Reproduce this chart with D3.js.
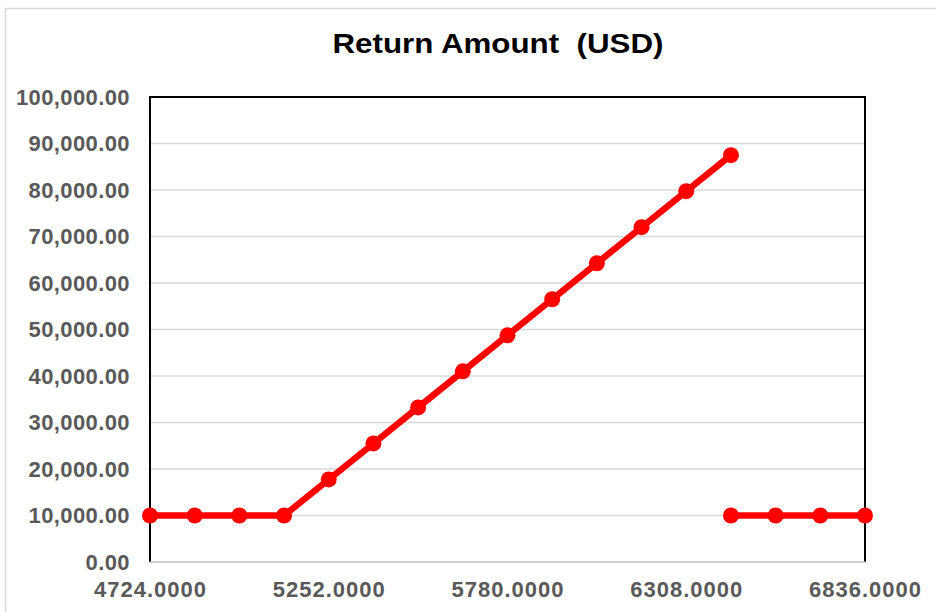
<!DOCTYPE html>
<html>
<head>
<meta charset="utf-8">
<script src="https://cdn.jsdelivr.net/npm/d3@7"></script>
<style>
  body { margin: 0; background: #fff; }
  text { font-family: "Liberation Sans", Arial, sans-serif; }
</style>
</head>
<body>
<svg id="chart" width="936" height="612"></svg>
<script>
var chartTitle = "Return Amount  (USD)";
// strike prices, two separate segments
var xFirst = [4724, 4856, 4988, 5120, 5252, 5384, 5516, 5648, 5780, 5912, 6044, 6176, 6308, 6440];
var yFirst = [10000, 10000, 10000, 10000, 17750, 25500, 33250, 41000, 48750, 56500, 64250, 72000, 79750, 87500];
var xSecond = [6440, 6572, 6704, 6836];
var ySecond = [10000, 10000, 10000, 10000];
var xTicks = [4724, 5252, 5780, 6308, 6836];
var yTicks = [0, 10000, 20000, 30000, 40000, 50000, 60000, 70000, 80000, 90000, 100000];

function drawChart() {
    var svg = d3.select("#chart"),
        width = 936,
        height = 612,
        margins = { top: 97, right: 71, bottom: 50, left: 150 };

    var xRange = d3.scaleLinear().range([margins.left, width - margins.right]).domain([4724, 6836]),
        yRange = d3.scaleLinear().range([height - margins.bottom, margins.top]).domain([0, 100000]);

    // outer frame
    svg.append("rect")
        .attr("x", 5.5).attr("y", 8.5)
        .attr("width", 940).attr("height", 610)
        .attr("fill", "none")
        .attr("stroke", "#d9d9d9")
        .attr("stroke-width", 1.5);

    svg.append("text")
        .attr("x", 498).attr("y", 53)
        .attr("text-anchor", "middle")
        .attr("font-size", 28)
        .attr("font-weight", "bold")
        .attr("fill", "#000")
        .attr("textLength", 331)
        .attr("lengthAdjust", "spacingAndGlyphs")
        .style("white-space", "pre")
        .text(chartTitle);

    // gridlines
    svg.append("g").selectAll("line")
        .data(yTicks.slice(1))
        .enter().append("line")
        .attr("x1", xRange(4724)).attr("x2", xRange(6836))
        .attr("y1", function (d) { return yRange(d); })
        .attr("y2", function (d) { return yRange(d); })
        .attr("stroke", "#d9d9d9")
        .attr("stroke-width", 1.5);

    // plot border
    var x0 = xRange(4724), x1 = xRange(6836), y0 = yRange(0), y1 = yRange(100000);
    svg.append("path")
        .attr("d", "M" + x0 + "," + y0 + "V" + y1 + "H" + x1 + "V" + y0)
        .attr("fill", "none")
        .attr("stroke", "#000")
        .attr("stroke-width", 2);
    svg.append("line")
        .attr("x1", x0).attr("x2", x1)
        .attr("y1", y0).attr("y2", y0)
        .attr("stroke", "#bfbfbf")
        .attr("stroke-width", 1.5);

    var yAxis = d3.axisLeft(yRange)
        .tickValues(yTicks)
        .tickSize(0)
        .tickPadding(20)
        .tickFormat(d3.format(",.2f"));
    var gy = svg.append("g")
        .attr("transform", "translate(" + margins.left + ",0)")
        .call(yAxis);
    gy.select(".domain").remove();
    gy.selectAll("text")
        .attr("font-size", 22)
        .attr("font-weight", "bold")
        .attr("fill", "#595959")
        .attr("letter-spacing", 0.4)
        .style("font-family", "'Liberation Sans', Arial, sans-serif");

    var xAxis = d3.axisBottom(xRange)
        .tickValues(xTicks)
        .tickSize(0)
        .tickPadding(19)
        .tickFormat(d3.format(".4f"));
    var gx = svg.append("g")
        .attr("transform", "translate(0," + (height - margins.bottom) + ")")
        .call(xAxis);
    gx.select(".domain").remove();
    gx.selectAll("text")
        .attr("font-size", 22)
        .attr("font-weight", "bold")
        .attr("fill", "#595959")
        .attr("letter-spacing", 1)
        .style("font-family", "'Liberation Sans', Arial, sans-serif");

    var lineFunc = d3.line()
        .x(function (d) { return xRange(d.x); })
        .y(function (d) { return yRange(d.y); });

    [[xFirst, yFirst], [xSecond, ySecond]].forEach(function (s) {
        var items = s[0].map(function (x, i) { return { x: x, y: s[1][i] }; });
        svg.append("path")
            .attr("d", lineFunc(items))
            .attr("stroke", "#ff0000")
            .attr("stroke-width", 6.5)
            .attr("stroke-linejoin", "round")
            .attr("fill", "none");
        svg.append("g").selectAll("circle")
            .data(items)
            .enter().append("circle")
            .attr("cx", function (d) { return xRange(d.x); })
            .attr("cy", function (d) { return yRange(d.y); })
            .attr("r", 8)
            .attr("fill", "#ff0000");
    });
}

drawChart();
</script>
</body>
</html>
